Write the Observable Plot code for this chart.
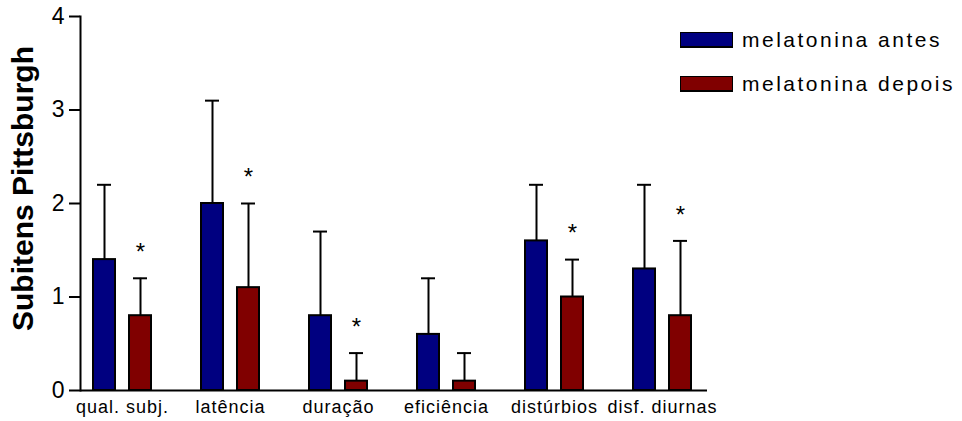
<!DOCTYPE html>
<html>
<head>
<meta charset="utf-8">
<script src="https://cdn.jsdelivr.net/npm/d3@7"></script>
<script src="https://cdn.jsdelivr.net/npm/@observablehq/plot@0.6"></script>
<style>
  html, body { margin: 0; padding: 0; background: #fff; }
  #wrap { position: relative; width: 962px; height: 421px; font-family: "Liberation Sans", Arial, sans-serif; }
  #legend { position: absolute; left: 680px; top: 32px; }
  .item { display: flex; align-items: center; height: 16px; margin-bottom: 28px; }
  .sw { width: 51px; height: 13px; border: 1px solid #000; border-bottom-width: 2px; box-sizing: content-box; margin-right: 9px; }
  .lab { font-size: 21px; letter-spacing: 2.5px; color: #000; white-space: nowrap; }
</style>
</head>
<body>
<div id="wrap"></div>
<script>
const categories = ["qual. subj.", "latência", "duração", "eficiência", "distúrbios", "disf. diurnas"];
const seriesNames = ["melatonina antes", "melatonina depois"];
const antes = [1.4, 2.0, 0.8, 0.6, 1.6, 1.3];
const antesSD = [0.8, 1.1, 0.9, 0.6, 0.6, 0.9];
const depois = [0.8, 1.1, 0.1, 0.1, 1.0, 0.8];
const depoisSD = [0.4, 0.9, 0.3, 0.3, 0.4, 0.8];
const significant = [true, true, true, false, true, true];
const seriesColors = ["#000080", "#800000"];
const yTicks = [0, 1, 2, 3, 4];
const yTitle = "Subitens Pittsburgh";

const antesRows = categories.map((c, i) => ({cat: c, mean: antes[i], top: antes[i] + antesSD[i]}));
const depoisRows = categories.map((c, i) => ({cat: c, mean: depois[i], top: depois[i] + depoisSD[i], sig: significant[i]}));

const chart = Plot.plot({
  width: 962,
  height: 421,
  marginTop: 16,
  marginBottom: 31,
  marginLeft: 80,
  marginRight: 255,
  style: {fontFamily: "'Liberation Sans', Arial, sans-serif", background: "#fff"},
  x: {domain: categories, range: [68, 716], padding: 0},
  y: {domain: [0, 4]},
  marks: [
    Plot.axisX({tickSize: 0, tickPadding: 10, fontSize: 18, label: null, color: "#000"}),
    Plot.axisY({ticks: yTicks, tickFormat: d => String(d), tickSize: 11, tickPadding: 5, fontSize: 23, label: null, strokeWidth: 2, color: "#000"}),
    Plot.frame({anchor: "left", strokeWidth: 2, stroke: "#000"}),
    // error bars
    Plot.ruleX(antesRows, {x: "cat", y1: "mean", y2: "top", dx: -18, stroke: "#000", strokeWidth: 2}),
    Plot.tickY(antesRows, {x: "cat", y: "top", insetLeft: 29, insetRight: 65, stroke: "#000", strokeWidth: 2}),
    Plot.ruleX(depoisRows, {x: "cat", y1: "mean", y2: "top", dx: 18, stroke: "#000", strokeWidth: 2}),
    Plot.tickY(depoisRows, {x: "cat", y: "top", insetLeft: 65, insetRight: 29, stroke: "#000", strokeWidth: 2}),
    // bars
    Plot.barY(antesRows, {x: "cat", y: "mean", fill: seriesColors[0], stroke: "#000", strokeWidth: 2, insetLeft: 25, insetRight: 61}),
    Plot.barY(depoisRows, {x: "cat", y: "mean", fill: seriesColors[1], stroke: "#000", strokeWidth: 2, insetLeft: 61, insetRight: 25}),
    // significance stars
    Plot.text(depoisRows.filter(d => d.sig), {x: "cat", y: "top", text: () => "*", dx: 18, dy: -26, fontSize: 24, fill: "#000"}),
    Plot.ruleY([0], {stroke: "#000", strokeWidth: 2}),
    // y title
    Plot.text([yTitle], {frameAnchor: "left", textAnchor: "middle", rotate: -90, dx: -57, dy: -15, fontSize: 30, fontWeight: "bold", fill: "#000"})
  ]
});

d3.select(chart).selectAll("[aria-label='x-axis tick label'] text").attr("letter-spacing", "1px");

const wrap = document.getElementById("wrap");
wrap.appendChild(chart);

const legend = document.createElement("div");
legend.id = "legend";
seriesNames.forEach((name, i) => {
  const item = document.createElement("div");
  item.className = "item";
  const sw = document.createElement("div");
  sw.className = "sw";
  sw.style.background = seriesColors[i];
  const lab = document.createElement("span");
  lab.className = "lab";
  lab.textContent = name;
  item.appendChild(sw);
  item.appendChild(lab);
  legend.appendChild(item);
});
wrap.appendChild(legend);
</script>
</body>
</html>
